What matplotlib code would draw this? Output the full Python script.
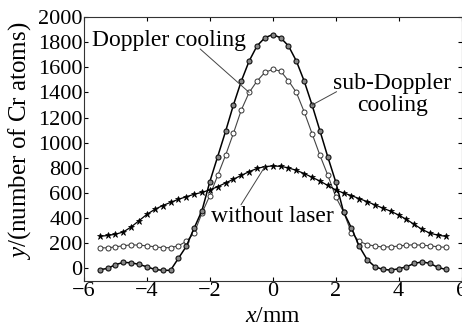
import numpy as np
import matplotlib
matplotlib.use('Agg')
import matplotlib.pyplot as plt

plt.rcParams['font.family'] = ['Liberation Serif', 'DejaVu Serif']
plt.rcParams['mathtext.fontset'] = 'custom'
plt.rcParams['mathtext.rm'] = 'Liberation Serif'
plt.rcParams['mathtext.it'] = 'Liberation Serif:italic'

x_mm = np.arange(-5.5, 5.51, 0.25)

sub_doppler = [-10, 0, 30, 48, 45, 32, 13, -8, -15, -15, 80, 175, 320, 460, 690, 890,
               1090, 1300, 1490, 1650, 1770, 1835, 1860, 1835, 1770, 1650, 1490, 1300,
               1095, 887, 690, 450, 322, 176, 70, 13, -8, -13, -3, 13, 40, 52, 40, 8, -8]

doppler = [165, 163, 172, 180, 188, 185, 180, 172, 165, 165, 180, 215, 280, 440, 580, 740,
           900, 1075, 1260, 1400, 1490, 1560, 1583, 1570, 1493, 1400, 1245, 1072,
           900, 742, 571, 450, 285, 215, 190, 178, 170, 172, 178, 185, 188, 185, 180, 172, 168]

no_laser = [255, 262, 272, 290, 330, 380, 430, 470, 500, 525, 550, 570, 590, 605, 625, 650,
            680, 710, 740, 770, 795, 810, 815, 812, 800, 780, 755, 725, 695, 660, 625, 600,
            580, 555, 532, 505, 480, 455, 425, 390, 350, 310, 280, 265, 255]

fig = plt.figure(figsize=(4.62, 3.30), dpi=100)
ax = fig.add_axes([84 / 462, 1 - 281 / 330, 377.5 / 462, 264 / 330])

ax.plot(x_mm, doppler, color='#444444', linewidth=0.8, marker='o', markersize=3.6,
        markerfacecolor='white', markeredgecolor='#333333', markeredgewidth=0.7)
ax.plot(x_mm, sub_doppler, color='black', linewidth=1.1, marker='o', markersize=3.6,
        markerfacecolor='#888888', markeredgecolor='#111111', markeredgewidth=0.8)
ax.plot(x_mm, no_laser, color='black', linewidth=0.9, marker='*', markersize=4.5,
        markerfacecolor='black', markeredgecolor='black', markeredgewidth=0.5)

ax.set_xlim(-6, 6)
ax.set_ylim(-100, 2000)
ax.set_xticks(np.arange(-6, 7, 2))
ax.set_yticks(np.arange(0, 2001, 200))
ax.tick_params(direction='in', top=True, right=True, length=3, labelsize=16, pad=1)
for s in ax.spines.values():
    s.set_linewidth(0.8)
    s.set_color('#333333')

ax.set_xlabel('$x$/mm', fontsize=17, labelpad=3)
ax.set_ylabel('$y$/(number of Cr atoms)', fontsize=18)
ax.yaxis.set_label_coords(-0.135, 0.53)

line_kw = dict(arrowstyle='-', color='#444444', linewidth=0.7, shrinkA=0, shrinkB=0)

# Doppler cooling label and leader
ax.text(-5.73, 1770, 'Doppler cooling', fontsize=17, ha='left', va='baseline')
ax.annotate('', xy=(-0.75, 1400), xytext=(-2.31, 1746), arrowprops=line_kw)

# sub-Doppler cooling label and leader
ax.text(3.8, 1430, 'sub-Doppler', fontsize=17, ha='center', va='baseline')
ax.text(3.8, 1256, 'cooling', fontsize=17, ha='center', va='baseline')
ax.annotate('', xy=(1.25, 1300), xytext=(2.03, 1406), arrowprops=line_kw)

# without laser label and leader
ax.text(0.0, 371, 'without laser', fontsize=17, ha='center', va='baseline')
ax.annotate('', xy=(-0.25, 810), xytext=(-1.01, 506), arrowprops=line_kw)

fig.savefig('out.png', dpi=100)
